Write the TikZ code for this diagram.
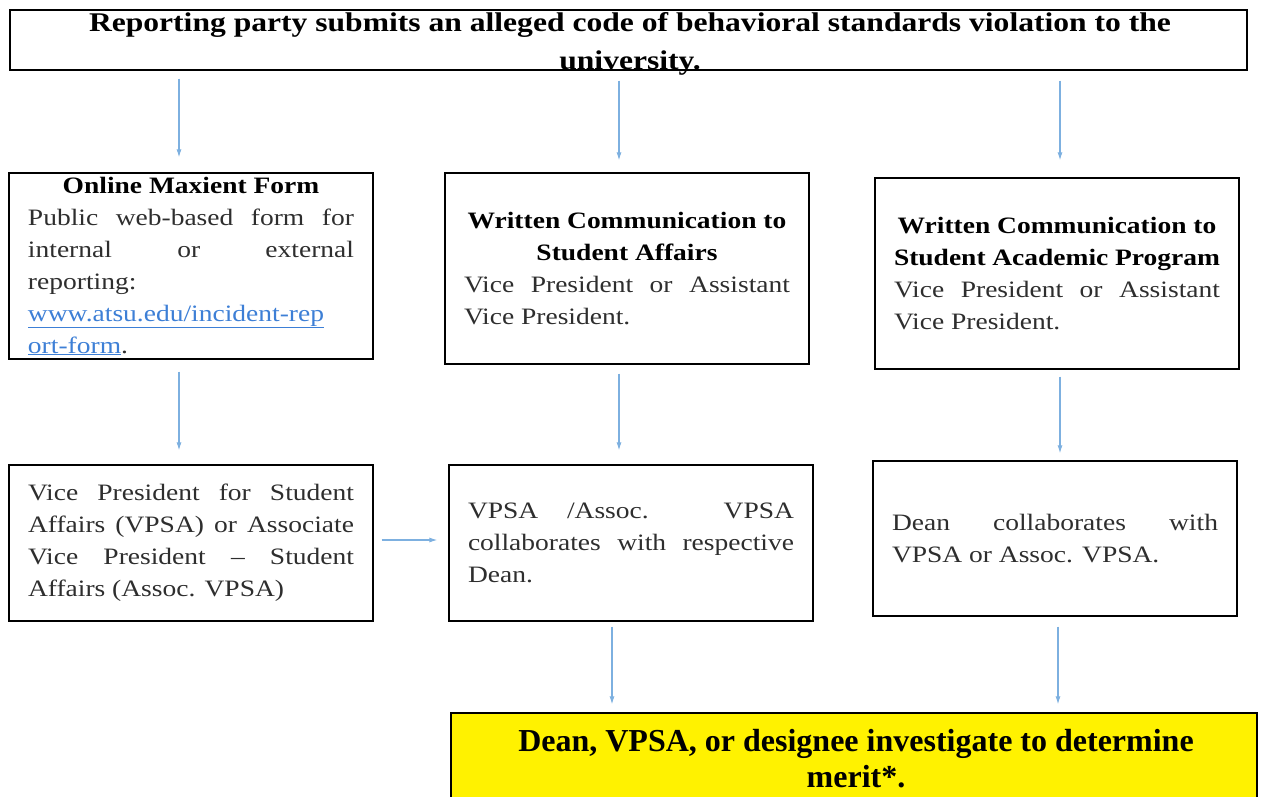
\documentclass[tikz,border=0pt]{standalone}
\usepackage{fontspec}
\setmainfont{Liberation Serif}[FakeStretch=1.17]
\newfontfamily\yfont{Liberation Serif}
\usetikzlibrary{arrows.meta}
\definecolor{arrblue}{HTML}{7DB0E0}
\definecolor{linkblue}{HTML}{3D7FD6}
\definecolor{bodygray}{HTML}{2E2E2E}
\begin{document}
\begin{tikzpicture}[x=1pt,y=-1pt,
  box/.style={draw=black,line width=1.3pt,minimum width=364pt,inner xsep=19pt,inner ysep=0pt,
    text width=326pt,align=justify,text=bodygray,
    font=\fontsize{23.5}{32}\selectfont},
  ttl/.style={},
  arr/.style={draw=arrblue,line width=1.1pt,-{Latex[length=8pt,width=5pt]}}]
\useasboundingbox (0,0) rectangle (1261,796);
\clip (0,0) rectangle (1261,796);
\fill[white] (0,0) rectangle (1261,796);

% top box
\node[draw=black,line width=1.3pt,minimum width=1237pt,minimum height=60pt,inner sep=0pt] (top) at (628.5,40) {};
\node[align=center,font=\bfseries\fontsize{27}{38}\selectfont,inner sep=0pt] (toptext) at (630,44)
 {Reporting party submits an alleged code of behavioral standards violation to the\\university.};

% row 1
\node[box,minimum height=186pt] (L1) at (191,266)
 {{\centering\bfseries\color{black}Online Maxient Form\par}
 Public web-based form for\linebreak internal or external\linebreak reporting:\linebreak
 {\color{linkblue}\underline{www.atsu.edu/incident-rep}}\linebreak {\color{linkblue}\underline{ort-form}}.};
\node[box,minimum height=191pt] (M1) at (627,268.5)
 {{\centering\bfseries\color{black}Written Communication to\\Student Affairs\par}
 Vice President or Assistant\linebreak Vice President.};
\node[box,minimum height=191pt] (R1) at (1057,273.5)
 {{\centering\bfseries\color{black}Written Communication to\\Student Academic Program\par}
 Vice President or Assistant\linebreak Vice President.};

% row 2
\node[box,minimum height=156pt] (L2) at (191,543)
 {Vice President for Student\linebreak Affairs (VPSA) or Associate\linebreak Vice President -- Student\linebreak Affairs (Assoc. VPSA)};
\node[box,minimum height=156pt] (M2) at (631,543)
 {VPSA /Assoc. VPSA\linebreak collaborates with respective\linebreak Dean.};
\node[box,minimum height=155pt] (R2) at (1055,538.5)
 {Dean collaborates with\linebreak VPSA or Assoc. VPSA.};

% yellow box
\node[draw=black,line width=1.3pt,fill=yellow,minimum width=806pt,minimum height=100pt,inner sep=0pt] (Y) at (854,763) {};
\node[align=center,font=\yfont\bfseries\fontsize{32}{36}\selectfont,inner sep=0pt] (Ytext) at (856,759)
 {Dean, VPSA, or designee investigate to determine\\merit*.};

% arrow x positions
\coordinate (xa) at (179,0);
\coordinate (xb) at (619,0);
\coordinate (xc) at (1060,0);
\coordinate (xd) at (612,0);
\coordinate (xe) at (1058,0);
\coordinate (yh) at (0,540);

\draw[arr,shorten <=8pt,shorten >=15pt] (top.south -| xa) -- (L1.north -| xa);
\draw[arr,shorten <=10pt,shorten >=12pt] (top.south -| xb) -- (M1.north -| xb);
\draw[arr,shorten <=10pt,shorten >=17pt] (top.south -| xc) -- (R1.north -| xc);
\draw[arr,shorten <=12pt,shorten >=14pt] (L1.south -| xa) -- (L2.north -| xa);
\draw[arr,shorten <=9pt,shorten >=14pt] (M1.south -| xb) -- (M2.north -| xb);
\draw[arr,shorten <=7pt,shorten >=7pt] (R1.south -| xc) -- (R2.north -| xc);
\draw[arr,shorten <=8pt,shorten >=11pt] (L2.east |- yh) -- (M2.west |- yh);
\draw[arr,shorten <=5pt,shorten >=8pt] (M2.south -| xd) -- (Y.north -| xd);
\draw[arr,shorten <=10pt,shorten >=8pt] (R2.south -| xe) -- (Y.north -| xe);
\end{tikzpicture}
\end{document}
